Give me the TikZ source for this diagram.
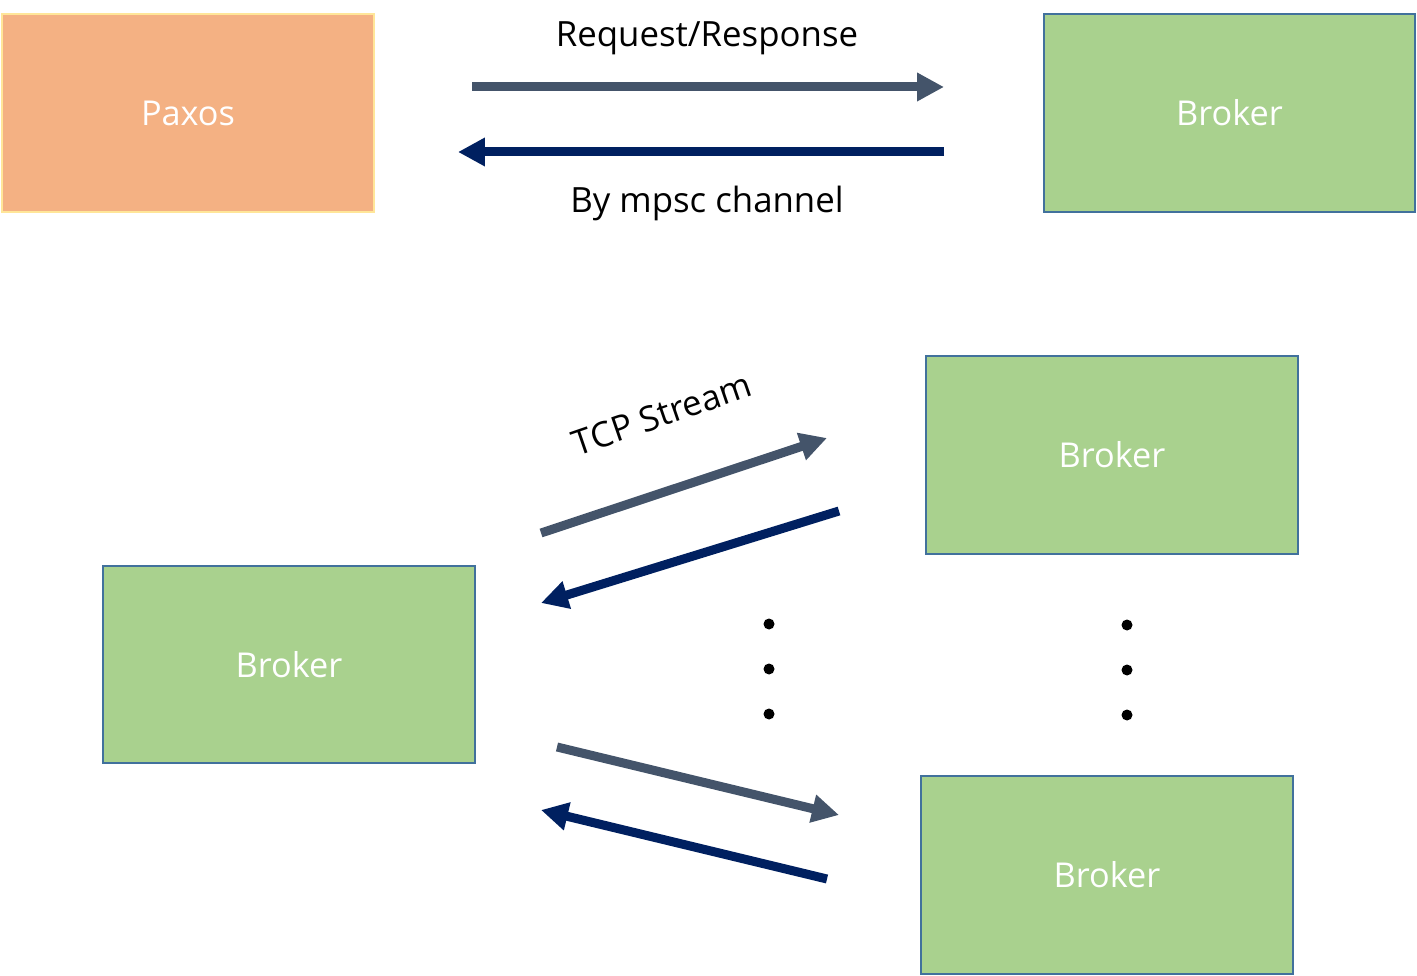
\documentclass[tikz,border=0pt]{standalone}
\usepackage{fontspec}
\setmainfont{Open Sans}
\usepackage{xcolor}
\usetikzlibrary{arrows.meta, positioning}

\definecolor{paxosfill}{HTML}{F4B183}
\definecolor{paxosline}{HTML}{FFE699}
\definecolor{brokerfill}{HTML}{A9D18E}
\definecolor{brokerline}{HTML}{41719C}
\definecolor{reqgray}{HTML}{44546A}
\definecolor{respnavy}{HTML}{002060}

\begin{document}
\begin{tikzpicture}[
    x=0.02cm, y=-0.02cm,
    box/.style={rectangle, draw, line width=0.04cm, minimum width=7.44cm, minimum height=3.96cm, align=center, text=white, font=\fontsize{19.5}{22}\selectfont},
    arr/.style={-{Triangle[length=0.54cm, width=0.54cm]}, line width=0.18cm},
    lbl/.style={font=\fontsize{19.8}{22}\selectfont},
    dot/.style={circle, fill=black, inner sep=0pt, minimum size=0.22cm}
]
\useasboundingbox (0,0) rectangle (1417,976);

% --- Paxos and broker ---
\node[box, fill=paxosfill, draw=paxosline] (paxos) at (188, 113) {Paxos};
\node[box, fill=brokerfill, draw=brokerline] (b_top) at (1229.5, 113) {Broker};
\coordinate (p_a) at (472, 87);
\coordinate (p_b) at (944, 87);
\coordinate (p_c) at (944, 152);
\coordinate (p_d) at (458, 152);
\draw[arr, reqgray] (p_a) -- (p_b);
\draw[arr, respnavy] (p_c) -- (p_d);
\node[lbl] (req) at (707, 38) {Request/Response};
\node[lbl] (mpsc) at (707, 203) {By mpsc channel};

% --- Broker to brokers ---
\node[box, fill=brokerfill, draw=brokerline] (b_left) at (289, 664.5) {Broker};
\node[box, fill=brokerfill, draw=brokerline] (b_mid) at (1112, 455) {Broker};
\node[box, fill=brokerfill, draw=brokerline] (b_low) at (1107, 875) {Broker};
\coordinate (t_a) at (541, 533);
\coordinate (t_b) at (827, 438);
\coordinate (t_c) at (839, 511);
\coordinate (t_d) at (541, 603);
\draw[arr, reqgray] (t_a) -- (t_b);
\draw[arr, respnavy] (t_c) -- (t_d);
\node[lbl, rotate=19] (tcp) at (662, 414) {TCP Stream};
\coordinate (l_a) at (557, 747);
\coordinate (l_b) at (839, 815);
\coordinate (l_c) at (827, 879);
\coordinate (l_d) at (541, 810);
\draw[arr, reqgray] (l_a) -- (l_b);
\draw[arr, respnavy] (l_c) -- (l_d);

% --- dots ---
\foreach \i/\y in {1/624, 2/669, 3/714} {
    \node[dot] (d_l\i) at (769, \y) {};
    \node[dot] (d_r\i) at (1127, \y+1) {};
}
\end{tikzpicture}
\end{document}
